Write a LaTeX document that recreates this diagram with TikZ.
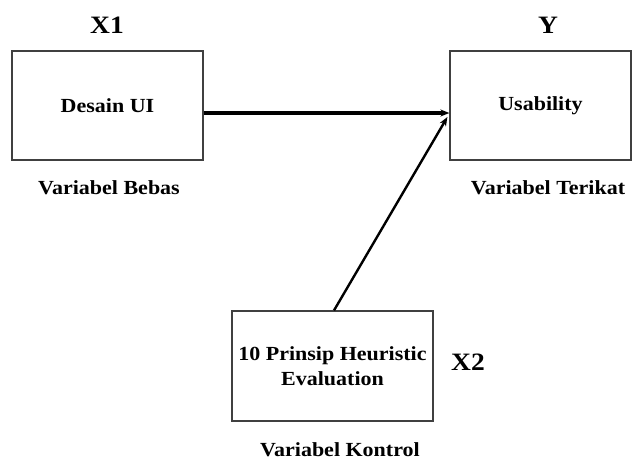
\documentclass[tikz,border=0pt]{standalone}
\usepackage{fontspec}
\setmainfont{Liberation Serif}[FakeStretch=1.1]
\usetikzlibrary{arrows.meta}

\tikzset{
	varbox/.style={draw=black!75,line width=1.2pt,minimum width=191pt,minimum height=109pt,
		inner sep=0pt,align=center,font=\fontsize{20}{25}\selectfont\bfseries},
	vartag/.style={font=\fontsize{20}{24}\selectfont\bfseries},
	varsym/.style={font=\fontsize{25}{29}\selectfont\bfseries},
	link/.style={-{Stealth[length=9pt,width=7pt]},black}
}

\begin{document}
\begin{tikzpicture}[x=1pt,y=-1pt]
	\useasboundingbox (0,0) rectangle (632,461);
	
	\node[varbox] (desain) at (107.5,105.5) {\raisebox{-2pt}{Desain UI}};
	\node[varbox,minimum width=181pt] (usab) at (540.5,105.5) {\raisebox{-2pt}{Usability}};
	\node[varbox,minimum width=201pt,minimum height=110pt] (heur) at (332.5,366) {10 Prinsip Heuristic\\Evaluation};
	
	\node[varsym] (xsatu) at (107,25) {X1};
	\node[varsym] (yvar) at (548,25) {Y};
	\node[varsym] (xdua) at (468,362) {X2};
	
	\node[vartag] (bebas) at (109,188) {Variabel Bebas};
	\node[vartag] (terikat) at (548,188) {Variabel Terikat};
	\node[vartag] (kontrol) at (340,450) {Variabel Kontrol};
	
	\draw[link,line width=3.2pt] ([yshift=-7.5pt]desain.east) -- ([yshift=-7.5pt]usab.west);
	\draw[link,line width=2.4pt] ([xshift=1.5pt]heur.north) -- ([yshift=-11.5pt,xshift=-2pt]usab.west);
\end{tikzpicture}
\end{document}
